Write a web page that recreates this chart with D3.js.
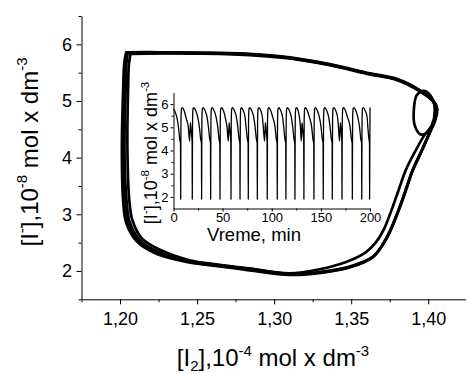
<!DOCTYPE html>
<html><head><meta charset="utf-8">
<script src="https://cdn.jsdelivr.net/npm/d3@7"></script>
<style>
body{margin:0;background:#fff}
svg text{font-family:"Liberation Sans",Arial,sans-serif;fill:#000}
</style>
</head><body>
<svg id="c" width="466" height="374"></svg>
<script>
// ---------- data ----------
const xTicks = [1.20, 1.25, 1.30, 1.35, 1.40];
const xTickLabels = ["1,20", "1,25", "1,30", "1,35", "1,40"];
const xMinorTicks = [1.175, 1.225, 1.275, 1.325, 1.375, 1.425];
const yTicks = [2, 3, 4, 5, 6];
const yTickLabels = ["2", "3", "4", "5", "6"];
const yMinorTicks = [1.5, 2.5, 3.5, 4.5, 5.5, 6.5];
const insetXTicks = [0, 50, 100, 150, 200];
const insetXTickLabels = ["0", "50", "100", "150", "200"];
const insetXMinorTicks = [25, 75, 125, 175];
const insetYTicks = [2, 3, 4, 5, 6];
const insetYTickLabels = ["2", "3", "4", "5", "6"];
const insetYMinorTicks = [2.5, 3.5, 4.5, 5.5];

// phase portrait strands: [I2] (1e-4 M), [I-] (1e-8 M)
const orbitA = [[1.2050,5.84],[1.2256,5.85],[1.2776,5.83],[1.3101,5.76],[1.3360,5.64],[1.3620,5.48],[1.3795,5.38],[1.3945,5.18],[1.4029,5.01],[1.4055,4.87],[1.4042,4.66],[1.4010,4.45],[1.3958,4.13],[1.3899,3.78],[1.3854,3.43],[1.3815,3.13],[1.3756,2.73],[1.3705,2.47],[1.3640,2.25],[1.3490,2.08],[1.3315,1.99],[1.3101,1.94],[1.2841,2.03],[1.2646,2.10],[1.2451,2.17],[1.2256,2.33],[1.2127,2.55],[1.2062,2.87],[1.2042,3.25],[1.2029,4.13],[1.2036,5.18],[1.2042,5.68],[1.2050,5.84]];
const orbitB = [[1.2040,5.86],[1.2256,5.86],[1.2776,5.84],[1.3101,5.77],[1.3360,5.65],[1.3620,5.49],[1.3795,5.39],[1.3945,5.19],[1.4029,5.02],[1.4058,4.87],[1.4045,4.66],[1.4012,4.45],[1.3960,4.13],[1.3901,3.78],[1.3856,3.43],[1.3817,3.13],[1.3758,2.73],[1.3707,2.47],[1.3642,2.25],[1.3492,2.07],[1.3315,1.97],[1.3101,1.93],[1.2841,2.01],[1.2646,2.08],[1.2451,2.15],[1.2240,2.30],[1.2110,2.52],[1.2040,2.85],[1.2020,3.25],[1.2012,4.13],[1.2020,5.18],[1.2028,5.68],[1.2040,5.86]];
const orbitC = [[1.2068,5.83],[1.2256,5.84],[1.2776,5.82],[1.3101,5.75],[1.3360,5.63],[1.3620,5.47],[1.3795,5.37],[1.3945,5.17],[1.4027,5.00],[1.4053,4.86],[1.4040,4.65],[1.4008,4.44],[1.3956,4.12],[1.3897,3.77],[1.3852,3.42],[1.3813,3.12],[1.3754,2.72],[1.3703,2.46],[1.3638,2.24],[1.3488,2.06],[1.3315,1.98],[1.3101,1.95],[1.2841,2.04],[1.2646,2.11],[1.2451,2.19],[1.2270,2.36],[1.2140,2.58],[1.2080,2.90],[1.2060,3.25],[1.2048,4.13],[1.2052,5.18],[1.2058,5.66],[1.2068,5.83]];
const orbitD = [[1.2045,5.85],[1.2256,5.85],[1.2776,5.83],[1.3101,5.76],[1.3360,5.64],[1.3620,5.48],[1.3795,5.38],[1.3880,5.29],[1.3945,5.18],[1.4029,5.01],[1.4055,4.87],[1.4042,4.66],[1.4010,4.47],[1.3951,4.41],[1.3912,4.57],[1.3906,4.83],[1.3925,5.10],[1.3971,5.18],[1.4023,5.06],[1.4042,4.83],[1.4023,4.57],[1.3971,4.38],[1.3919,4.13],[1.3854,3.78],[1.3808,3.43],[1.3769,3.13],[1.3711,2.73],[1.3659,2.50],[1.3594,2.33],[1.3458,2.15],[1.3295,2.03],[1.3101,1.96],[1.2841,2.04],[1.2646,2.09],[1.2451,2.16],[1.2250,2.32],[1.2120,2.54],[1.2052,2.86],[1.2034,3.25],[1.2022,4.13],[1.2028,5.18],[1.2035,5.68],[1.2045,5.85]];

// inset time series: time (min), [I-] (1e-8 M)
const insetSeries = [
[0,5.8],[1.5,5.68],[3.3,5.45],[5.1,5.0],[6.3,4.5],[7.15,4.3],[7.3,1.9],
[7.6,5.3],[8.1,5.8],[8.8,5.85],[10.8,5.72],[12.8,5.4],[15.1,5.0],[16.4,4.4],[17.2,5.2],[17.9,4.9],[18.95,4.35],[19.1,1.9],
[19.4,5.3],[19.9,5.8],[20.6,5.85],[22.6,5.72],[24.6,5.45],[26.4,5.0],[27.6,4.5],[28.45,4.3],[28.6,1.9],
[28.9,5.3],[29.4,5.8],[30.1,5.85],[32.1,5.72],[34.1,5.45],[35.6,5.0],[36.8,4.5],[37.65,4.3],[37.8,1.9],
[38.1,5.3],[38.6,5.8],[39.3,5.85],[41.3,5.72],[43.3,5.45],[45.1,5.0],[46.3,4.5],[47.15,4.3],[47.3,1.9],
[47.6,5.3],[48.1,5.8],[48.8,5.85],[50.8,5.72],[52.8,5.4],[54.5,5.0],[55.8,4.4],[56.6,5.2],[57.3,4.9],[58.35,4.35],[58.5,1.9],
[58.8,5.3],[59.3,5.8],[60.0,5.85],[62.0,5.72],[64.0,5.45],[65.5,5.0],[66.7,4.5],[67.55,4.3],[67.7,1.9],
[68.0,5.3],[68.5,5.8],[69.2,5.85],[71.0,5.72],[72.8,5.45],[73.9,5.0],[75.1,4.5],[75.95,4.3],[76.1,1.9],
[76.4,5.3],[76.9,5.8],[77.6,5.85],[79.6,5.72],[81.6,5.45],[83.1,5.0],[84.3,4.5],[85.15,4.3],[85.3,1.9],
[85.6,5.3],[86.1,5.8],[86.8,5.85],[88.8,5.72],[90.6,5.4],[91.4,5.0],[92.7,4.4],[93.5,5.2],[94.2,4.9],[95.25,4.35],[95.4,1.9],
[95.7,5.3],[96.2,5.8],[96.9,5.85],[98.9,5.72],[100.9,5.45],[103.4,5.0],[104.6,4.5],[105.45,4.3],[105.6,1.9],
[105.9,5.3],[106.4,5.8],[107.1,5.85],[109.1,5.72],[111.0,5.45],[112.2,5.0],[113.4,4.5],[114.25,4.3],[114.4,1.9],
[114.7,5.3],[115.2,5.8],[115.9,5.85],[117.9,5.72],[119.9,5.45],[121.4,5.0],[122.6,4.5],[123.45,4.3],[123.6,1.9],
[123.9,5.3],[124.4,5.8],[125.1,5.85],[126.9,5.72],[128.3,5.4],[129.2,5.0],[130.0,4.4],[130.8,5.2],[131.5,4.9],[132.55,4.35],[132.7,1.9],
[133.0,5.3],[133.5,5.8],[134.2,5.85],[136.2,5.72],[138.2,5.45],[140.7,5.0],[141.9,4.5],[142.75,4.3],[142.9,1.9],
[143.2,5.3],[143.7,5.8],[144.4,5.85],[146.4,5.72],[148.4,5.45],[150.2,5.0],[151.4,4.5],[152.25,4.3],[152.4,1.9],
[152.7,5.3],[153.2,5.8],[153.9,5.85],[155.9,5.72],[157.9,5.45],[159.4,5.0],[160.6,4.5],[161.45,4.3],[161.6,1.9],
[161.9,5.3],[162.4,5.8],[163.1,5.85],[165.1,5.72],[167.1,5.4],[167.9,5.0],[169.0,4.4],[169.8,5.2],[170.5,4.9],[171.35,4.35],[171.5,1.9],
[171.8,5.3],[172.3,5.8],[173.0,5.85],[175.0,5.72],[177.0,5.45],[179.8,5.0],[181.0,4.5],[181.85,4.3],[182.0,1.9],
[182.3,5.3],[182.8,5.8],[183.5,5.85],[185.5,5.72],[187.5,5.45],[189.4,5.0],[190.6,4.5],[191.45,4.3],[191.6,1.9],
[191.9,5.3],[192.4,5.8],[193.1,5.85],[195.1,5.72],[197.0,5.45],[197.8,5.0],[198.9,4.5],[199.5,4.3],[199.6,1.9],[200,5.85]
];

// ---------- drawing ----------
const svg = d3.select("#c");
const x = d3.scaleLinear().domain([1.175, 1.425]).range([81.5, 466.8]);
const y = d3.scaleLinear().domain([1.5, 6.5]).range([299.3, 16]);

function styleAxis(g, fs) {
  g.selectAll(".domain").attr("stroke", "#000").attr("stroke-width", 1);
  g.selectAll(".tick line").attr("stroke", "#000").attr("stroke-width", 1);
  g.selectAll("text").attr("font-size", fs).attr("font-family", '"Liberation Sans",Arial,sans-serif').attr("fill", "#000");
  g.attr("font-family", null).attr("font-size", null);
}

// main axes
const gx = svg.append("g").attr("transform", `translate(0,${y(1.5)})`)
  .call(d3.axisBottom(x).tickValues(xTicks).tickFormat((d, i) => xTickLabels[i]).tickSize(5).tickSizeOuter(0).tickPadding(8));
styleAxis(gx, 18);
const gxm = svg.append("g").attr("transform", `translate(0,${y(1.5)})`)
  .call(d3.axisBottom(x).tickValues(xMinorTicks).tickFormat("").tickSize(3).tickSizeOuter(0));
styleAxis(gxm, 18);
gxm.select(".domain").remove();

const gy = svg.append("g").attr("transform", `translate(${x(1.175)},0)`)
  .call(d3.axisLeft(y).tickValues(yTicks).tickFormat((d, i) => yTickLabels[i]).tickSize(5).tickSizeOuter(0).tickPadding(4.5));
styleAxis(gy, 18);
const gym = svg.append("g").attr("transform", `translate(${x(1.175)},0)`)
  .call(d3.axisLeft(y).tickValues(yMinorTicks).tickFormat("").tickSize(3).tickSizeOuter(0));
styleAxis(gym, 18);
gym.select(".domain").remove();

// phase portrait
const line = d3.line().x(d => x(d[0])).y(d => y(d[1])).curve(d3.curveCatmullRom.alpha(0.5));
[orbitB, orbitC, orbitA, orbitD].forEach(o => {
  svg.append("path").datum(o).attr("d", line)
    .attr("fill", "none").attr("stroke", "#000").attr("stroke-width", 2.7)
    .attr("stroke-linejoin", "round").attr("stroke-linecap", "round");
});

// titles
function richText(parent, parts, fs, sfs) {
  const t = parent.append("text").attr("text-anchor", "middle").attr("font-size", fs);
  let shift = 0;
  parts.forEach(p => {
    const ts = t.append("tspan").text(p.t);
    let target = p.s === "sup" ? -fs * 0.42 : p.s === "sub" ? fs * 0.22 : 0;
    if (target !== shift) { ts.attr("dy", target - shift); shift = target; }
    ts.attr("font-size", p.s ? sfs : fs);
  });
  return t;
}
const xTitle = [{t:"[I"},{t:"2",s:"sub"},{t:"],10"},{t:"-4",s:"sup"},{t:" mol x dm"},{t:"-3",s:"sup"}];
const yTitle = [{t:"[I"},{t:"-",s:"sup"},{t:"],10"},{t:"-8",s:"sup"},{t:" mol x dm"},{t:"-3",s:"sup"}];
richText(svg.append("g").attr("transform", "translate(273,366)"), xTitle, 24, 15);
richText(svg.append("g").attr("transform", "translate(37.5,152) rotate(-90)"), yTitle, 24, 15);

// inset
const ix = d3.scaleLinear().domain([0, 200]).range([173.5, 370]);
const iy = d3.scaleLinear().domain([1.5, 6.5]).range([208.5, 92.5]);

const igx = svg.append("g").attr("transform", `translate(0,${iy(1.5)})`)
  .call(d3.axisBottom(ix).tickValues(insetXTicks).tickFormat((d, i) => insetXTickLabels[i]).tickSize(3).tickSizeOuter(0).tickPadding(1));
styleAxis(igx, 13);
const igxm = svg.append("g").attr("transform", `translate(0,${iy(1.5)})`)
  .call(d3.axisBottom(ix).tickValues(insetXMinorTicks).tickFormat("").tickSize(2).tickSizeOuter(0));
styleAxis(igxm, 13);
igxm.select(".domain").remove();

const igy = svg.append("g").attr("transform", `translate(${ix(0)},0)`)
  .call(d3.axisLeft(iy).tickValues(insetYTicks).tickFormat((d, i) => insetYTickLabels[i]).tickSize(3).tickSizeOuter(0).tickPadding(2));
styleAxis(igy, 13);
const igym = svg.append("g").attr("transform", `translate(${ix(0)},0)`)
  .call(d3.axisLeft(iy).tickValues(insetYMinorTicks).tickFormat("").tickSize(2).tickSizeOuter(0));
styleAxis(igym, 13);
igym.select(".domain").remove();

const iline = d3.line().x(d => ix(d[0])).y(d => iy(d[1])).curve(d3.curveMonotoneX);
svg.append("path").datum(insetSeries).attr("d", iline)
  .attr("fill", "none").attr("stroke", "#000").attr("stroke-width", 1.3).attr("stroke-linejoin", "round");

svg.append("text").attr("x", 254).attr("y", 241).attr("text-anchor", "middle")
  .attr("font-size", 18.5).text("Vreme, min");
richText(svg.append("g").attr("transform", "translate(157,153) rotate(-90)"), yTitle, 18, 11.5);
</script>
</body></html>
